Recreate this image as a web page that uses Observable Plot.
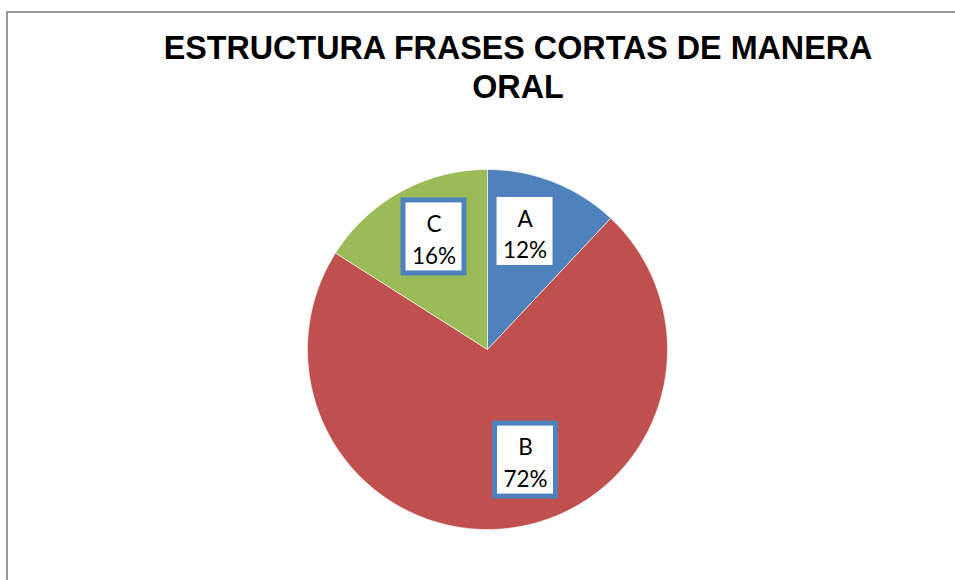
<!DOCTYPE html>
<html><head><meta charset="utf-8">
<script src="https://cdn.jsdelivr.net/npm/d3@7"></script>
<script src="https://cdn.jsdelivr.net/npm/@observablehq/plot@0.6"></script>
<style>
html,body{margin:0;padding:0;background:#fff;}
#wrap{position:relative;width:955px;height:580px;overflow:hidden;background:#fff;}
#border{position:absolute;left:6px;top:11px;width:1200px;height:1200px;border:2.5px solid #989898;box-sizing:border-box;}
#chart{position:absolute;left:0;top:0;}
</style></head><body>
<div id="wrap"><div id="border"></div><div id="chart"></div></div>
<script>
const titleLines = ["ESTRUCTURA FRASES CORTAS DE MANERA", "ORAL"];
const categories = ["A", "B", "C"];
const percents = [12, 72, 16];
const colors = ["#4F81BD", "#C0504D", "#9BBB59"];

const arcs = d3.pie().sort(null).value(d => d.value)(
  categories.map((c, i) => ({label: c, value: percents[i]}))
);
const slicePts = [];
for (const s of arcs) {
  const n = Math.max(2, Math.ceil((s.endAngle - s.startAngle) / (Math.PI / 360)));
  slicePts.push({label: s.data.label, x: 0, y: 0});
  for (let k = 0; k <= n; k++) {
    const a = s.startAngle + (s.endAngle - s.startAngle) * k / n;
    slicePts.push({label: s.data.label, x: Math.sin(a), y: Math.cos(a)});
  }
  slicePts.push({label: s.data.label, x: 0, y: 0});
}
const labelR = 0.678;
const labels = arcs.map(s => {
  const m = (s.startAngle + s.endAngle) / 2;
  return {label: s.data.label, pct: s.data.value, x: labelR * Math.sin(m), y: labelR * Math.cos(m)};
});
const nudge = {A: [-7.4, -4.6], B: [22.7, -10.5], C: [5.3, -5.6]};

const labelMarks = labels.flatMap(d => {
  const [dx, dy] = nudge[d.label];
  return [
    Plot.rect([d], {x1: "x", x2: "x", y1: "y", y2: "y",
      insetLeft: -30.5, insetRight: -30.5, insetTop: -36.5, insetBottom: -36.5,
      fill: "white", stroke: "#4F81BD", strokeWidth: 5, dx, dy}),
    Plot.text([d], {x: "x", y: "y", text: v => `${v.label}\n${v.pct}%`,
      fontSize: 22.5, lineHeight: 1.4, fontFamily: "Lato", fill: "black", dx, dy: dy + 1})
  ];
});

const chart = Plot.plot({
  width: 955, height: 580, margin: 0,
  style: {background: "transparent"},
  x: {domain: [-1, 1], range: [307, 667], axis: null},
  y: {domain: [-1, 1], range: [529, 169], axis: null},
  color: {domain: categories, range: colors},
  marks: [
    Plot.line(slicePts, {x: "x", y: "y", z: "label", fill: "label", stroke: "white", strokeWidth: 0.6}),
    ...labelMarks,
    Plot.text([titleLines.join("\n")], {frameAnchor: "top", lineAnchor: "top", dx: 40, dy: 31,
      fontSize: 32.3, fontWeight: "bold", fontFamily: "Liberation Sans", lineHeight: 1.207, fill: "black"})
  ]
});
document.getElementById("chart").appendChild(chart);
</script>
</body></html>
